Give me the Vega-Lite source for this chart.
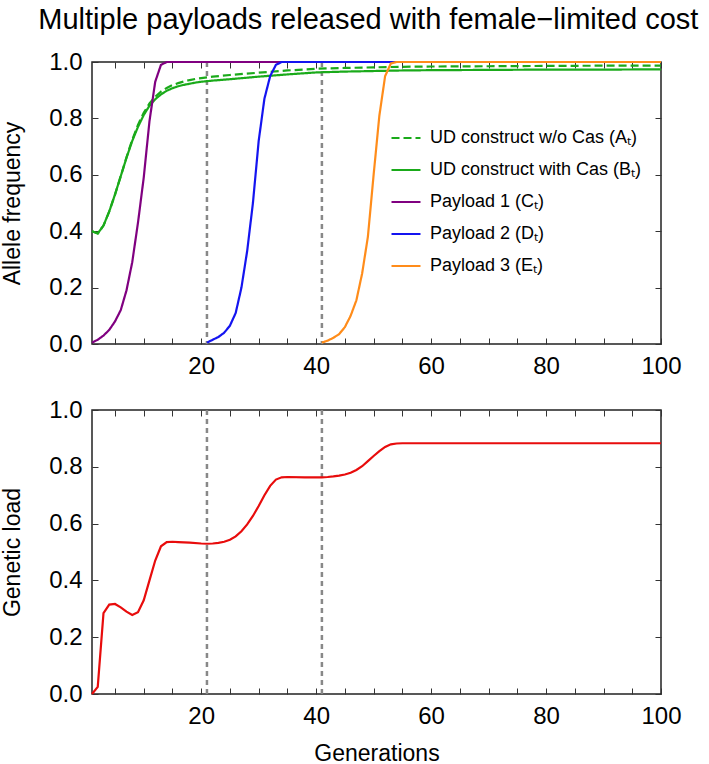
{
  "$schema": "https://vega.github.io/schema/vega-lite/v6.json",
  "padding": {"left": 0, "top": 6, "right": 5, "bottom": 5},
  "title": {"text": "Multiple payloads released with female−limited cost", "fontSize": 29, "font": "Liberation Sans", "fontWeight": "normal", "color": "#000", "anchor": "middle", "offset": 14, "dx": 27},
  "config": {
    "font": "Liberation Sans",
    "view": {"stroke": "#222", "strokeWidth": 1.5},
    "axis": {"grid": false, "domain": false, "tickColor": "#333", "tickWidth": 1, "labelColor": "#000", "titleColor": "#000", "labelFont": "Liberation Sans", "titleFont": "Liberation Sans", "titleFontWeight": "normal", "labelFontSize": 24, "titleFontSize": 23, "labelFlush": false}
  },
  "datasets": {
    "freq": [
      {"g": 1, "s": "A", "f": 0.400}, {"g": 2, "s": "A", "f": 0.392}, {"g": 3, "s": "A", "f": 0.420}, {"g": 4, "s": "A", "f": 0.470}, {"g": 5, "s": "A", "f": 0.530}, {"g": 6, "s": "A", "f": 0.595}, {"g": 7, "s": "A", "f": 0.662}, {"g": 8, "s": "A", "f": 0.724}, {"g": 9, "s": "A", "f": 0.777}, {"g": 10, "s": "A", "f": 0.820}, {"g": 11, "s": "A", "f": 0.853}, {"g": 12, "s": "A", "f": 0.877}, {"g": 13, "s": "A", "f": 0.895}, {"g": 14, "s": "A", "f": 0.908}, {"g": 15, "s": "A", "f": 0.918}, {"g": 16, "s": "A", "f": 0.925}, {"g": 17, "s": "A", "f": 0.931}, {"g": 18, "s": "A", "f": 0.936}, {"g": 19, "s": "A", "f": 0.940}, {"g": 20, "s": "A", "f": 0.943}, {"g": 22, "s": "A", "f": 0.948}, {"g": 25, "s": "A", "f": 0.954}, {"g": 30, "s": "A", "f": 0.962}, {"g": 35, "s": "A", "f": 0.970}, {"g": 40, "s": "A", "f": 0.976}, {"g": 45, "s": "A", "f": 0.979}, {"g": 50, "s": "A", "f": 0.981}, {"g": 55, "s": "A", "f": 0.983}, {"g": 60, "s": "A", "f": 0.984}, {"g": 70, "s": "A", "f": 0.985}, {"g": 80, "s": "A", "f": 0.986}, {"g": 90, "s": "A", "f": 0.987}, {"g": 100, "s": "A", "f": 0.987},
      {"g": 1, "s": "B", "f": 0.400}, {"g": 2, "s": "B", "f": 0.392}, {"g": 3, "s": "B", "f": 0.420}, {"g": 4, "s": "B", "f": 0.470}, {"g": 5, "s": "B", "f": 0.530}, {"g": 6, "s": "B", "f": 0.595}, {"g": 7, "s": "B", "f": 0.660}, {"g": 8, "s": "B", "f": 0.720}, {"g": 9, "s": "B", "f": 0.770}, {"g": 10, "s": "B", "f": 0.812}, {"g": 11, "s": "B", "f": 0.845}, {"g": 12, "s": "B", "f": 0.868}, {"g": 13, "s": "B", "f": 0.885}, {"g": 14, "s": "B", "f": 0.898}, {"g": 15, "s": "B", "f": 0.907}, {"g": 16, "s": "B", "f": 0.914}, {"g": 17, "s": "B", "f": 0.919}, {"g": 18, "s": "B", "f": 0.923}, {"g": 19, "s": "B", "f": 0.927}, {"g": 20, "s": "B", "f": 0.930}, {"g": 22, "s": "B", "f": 0.934}, {"g": 25, "s": "B", "f": 0.939}, {"g": 30, "s": "B", "f": 0.948}, {"g": 35, "s": "B", "f": 0.956}, {"g": 40, "s": "B", "f": 0.963}, {"g": 45, "s": "B", "f": 0.966}, {"g": 50, "s": "B", "f": 0.968}, {"g": 55, "s": "B", "f": 0.970}, {"g": 60, "s": "B", "f": 0.971}, {"g": 70, "s": "B", "f": 0.972}, {"g": 80, "s": "B", "f": 0.973}, {"g": 90, "s": "B", "f": 0.973}, {"g": 100, "s": "B", "f": 0.974},
      {"g": 1, "s": "C", "f": 0.005}, {"g": 2, "s": "C", "f": 0.015}, {"g": 3, "s": "C", "f": 0.030}, {"g": 4, "s": "C", "f": 0.050}, {"g": 5, "s": "C", "f": 0.080}, {"g": 6, "s": "C", "f": 0.120}, {"g": 7, "s": "C", "f": 0.190}, {"g": 8, "s": "C", "f": 0.290}, {"g": 9, "s": "C", "f": 0.430}, {"g": 10, "s": "C", "f": 0.590}, {"g": 11, "s": "C", "f": 0.790}, {"g": 12, "s": "C", "f": 0.930}, {"g": 13, "s": "C", "f": 0.990}, {"g": 14, "s": "C", "f": 1.0}, {"g": 100, "s": "C", "f": 1.0},
      {"g": 21, "s": "D", "f": 0.005}, {"g": 22, "s": "D", "f": 0.015}, {"g": 23, "s": "D", "f": 0.025}, {"g": 24, "s": "D", "f": 0.040}, {"g": 25, "s": "D", "f": 0.065}, {"g": 26, "s": "D", "f": 0.110}, {"g": 27, "s": "D", "f": 0.200}, {"g": 28, "s": "D", "f": 0.330}, {"g": 29, "s": "D", "f": 0.500}, {"g": 30, "s": "D", "f": 0.720}, {"g": 31, "s": "D", "f": 0.870}, {"g": 32, "s": "D", "f": 0.950}, {"g": 33, "s": "D", "f": 0.990}, {"g": 34, "s": "D", "f": 1.0}, {"g": 100, "s": "D", "f": 1.0},
      {"g": 41, "s": "E", "f": 0.005}, {"g": 42, "s": "E", "f": 0.012}, {"g": 43, "s": "E", "f": 0.022}, {"g": 44, "s": "E", "f": 0.035}, {"g": 45, "s": "E", "f": 0.060}, {"g": 46, "s": "E", "f": 0.100}, {"g": 47, "s": "E", "f": 0.155}, {"g": 48, "s": "E", "f": 0.250}, {"g": 49, "s": "E", "f": 0.380}, {"g": 50, "s": "E", "f": 0.600}, {"g": 51, "s": "E", "f": 0.810}, {"g": 52, "s": "E", "f": 0.950}, {"g": 53, "s": "E", "f": 0.995}, {"g": 54, "s": "E", "f": 1.0}, {"g": 100, "s": "E", "f": 1.0}
    ],
    "load": [
      {"g": 1, "L": 0.0}, {"g": 2, "L": 0.025}, {"g": 3, "L": 0.285}, {"g": 4, "L": 0.315}, {"g": 5, "L": 0.317}, {"g": 6, "L": 0.305}, {"g": 7, "L": 0.290}, {"g": 8, "L": 0.278}, {"g": 9, "L": 0.288}, {"g": 10, "L": 0.330}, {"g": 11, "L": 0.400}, {"g": 12, "L": 0.470}, {"g": 13, "L": 0.520}, {"g": 14, "L": 0.535}, {"g": 15, "L": 0.536}, {"g": 16, "L": 0.535}, {"g": 18, "L": 0.533}, {"g": 20, "L": 0.530}, {"g": 21, "L": 0.529}, {"g": 22, "L": 0.530}, {"g": 23, "L": 0.532}, {"g": 24, "L": 0.536}, {"g": 25, "L": 0.543}, {"g": 26, "L": 0.555}, {"g": 27, "L": 0.573}, {"g": 28, "L": 0.597}, {"g": 29, "L": 0.627}, {"g": 30, "L": 0.662}, {"g": 31, "L": 0.700}, {"g": 32, "L": 0.733}, {"g": 33, "L": 0.755}, {"g": 34, "L": 0.763}, {"g": 35, "L": 0.764}, {"g": 38, "L": 0.763}, {"g": 41, "L": 0.763}, {"g": 42, "L": 0.764}, {"g": 43, "L": 0.766}, {"g": 44, "L": 0.769}, {"g": 45, "L": 0.773}, {"g": 46, "L": 0.779}, {"g": 47, "L": 0.789}, {"g": 48, "L": 0.802}, {"g": 49, "L": 0.820}, {"g": 50, "L": 0.838}, {"g": 51, "L": 0.855}, {"g": 52, "L": 0.870}, {"g": 53, "L": 0.879}, {"g": 54, "L": 0.882}, {"g": 55, "L": 0.883}, {"g": 70, "L": 0.883}, {"g": 100, "L": 0.883}
    ],
    "release": [{"g": 21}, {"g": 41}]
  },
  "spacing": 66,
  "bounds": "flush",
  "vconcat": [
    {
      "width": 569,
      "height": 282,
      "resolve": {"axis": {"x": "independent", "y": "independent"}},
      "layer": [
        {
          "data": {"name": "release"},
          "mark": {"type": "rule", "color": "#888888", "strokeWidth": 2.5, "strokeDash": [5, 4]},
          "encoding": {"x": {"field": "g", "type": "quantitative", "scale": {"domain": [1, 100]}, "axis": null}}
        },
        {
          "data": {"name": "freq"},
          "transform": [{"filter": "datum.s === 'A' || datum.s === 'B'"}],
          "mark": {"type": "line", "strokeWidth": 2.2},
          "encoding": {
            "x": {"field": "g", "type": "quantitative", "scale": {"domain": [1, 100]}, "axis": {"orient": "bottom", "values": [5,10,15,20,25,30,35,40,45,50,55,60,65,70,75,80,85,90,95,100], "labelExpr": "datum.value % 20 === 0 ? datum.label : ''", "tickSize": -6, "labelPadding": 16, "title": null}},
            "y": {"field": "f", "type": "quantitative", "scale": {"domain": [0, 1]}, "axis": {"orient": "left", "values": [0, 0.2, 0.4, 0.6, 0.8, 1.0], "format": ".1f", "tickSize": -6, "labelPadding": 16, "title": "Allele frequency", "titlePadding": 24}},
            "color": {"field": "s", "type": "nominal", "scale": {"domain": ["A", "B", "C", "D", "E"], "range": ["#1aaa1a", "#1aaa1a", "#800080", "#1414f0", "#ff8c1a"]}, "legend": {"orient": "none", "legendX": 298, "legendY": 60, "title": null, "symbolType": "stroke", "symbolSize": 841, "symbolStrokeWidth": 2.2, "labelFontSize": 18, "labelColor": "#000", "labelLimit": 0, "labelOffset": 8, "rowPadding": 7, "labelExpr": "({'A': 'UD construct w/o Cas (Aₜ)', 'B': 'UD construct with Cas (Bₜ)', 'C': 'Payload 1 (Cₜ)', 'D': 'Payload 2 (Dₜ)', 'E': 'Payload 3 (Eₜ)'})[datum.label]"}},
            "strokeDash": {"field": "s", "type": "nominal", "scale": {"domain": ["A", "B", "C", "D", "E"], "range": [[8, 4], [1, 0], [1, 0], [1, 0], [1, 0]]}, "legend": {"orient": "none", "legendX": 298, "legendY": 60, "title": null, "symbolType": "stroke", "symbolSize": 841, "symbolStrokeWidth": 2.2, "labelFontSize": 18, "labelColor": "#000", "labelLimit": 0, "labelOffset": 8, "rowPadding": 7, "labelExpr": "({'A': 'UD construct w/o Cas (Aₜ)', 'B': 'UD construct with Cas (Bₜ)', 'C': 'Payload 1 (Cₜ)', 'D': 'Payload 2 (Dₜ)', 'E': 'Payload 3 (Eₜ)'})[datum.label]"}}
          }
        },
        {
          "data": {"name": "freq"},
          "transform": [{"filter": "datum.s !== 'A' && datum.s !== 'B'"}],
          "mark": {"type": "line", "strokeWidth": 2.2},
          "encoding": {
            "x": {"field": "g", "type": "quantitative", "scale": {"domain": [1, 100]}, "axis": {"orient": "top", "values": [5,10,15,20,25,30,35,40,45,50,55,60,65,70,75,80,85,90,95,100], "labels": false, "tickSize": -6, "title": null}},
            "y": {"field": "f", "type": "quantitative", "scale": {"domain": [0, 1]}, "axis": {"orient": "right", "values": [0, 0.2, 0.4, 0.6, 0.8, 1.0], "labels": false, "tickSize": -6, "title": null}},
            "color": {"field": "s", "type": "nominal"},
            "strokeDash": {"field": "s", "type": "nominal"}
          }
        }
      ]
    },
    {
      "width": 569,
      "height": 284,
      "resolve": {"axis": {"x": "independent", "y": "independent"}},
      "layer": [
        {
          "data": {"name": "release"},
          "mark": {"type": "rule", "color": "#888888", "strokeWidth": 2.5, "strokeDash": [5, 4]},
          "encoding": {"x": {"field": "g", "type": "quantitative", "scale": {"domain": [1, 100]}, "axis": null}}
        },
        {
          "data": {"name": "load"},
          "mark": {"type": "line", "strokeWidth": 2.2, "color": "#e80c0c"},
          "encoding": {
            "x": {"field": "g", "type": "quantitative", "scale": {"domain": [1, 100]}, "axis": {"orient": "bottom", "values": [5,10,15,20,25,30,35,40,45,50,55,60,65,70,75,80,85,90,95,100], "labelExpr": "datum.value % 20 === 0 ? datum.label : ''", "tickSize": -6, "labelPadding": 16, "title": "Generations", "titlePadding": 14}},
            "y": {"field": "L", "type": "quantitative", "scale": {"domain": [0, 1]}, "axis": {"orient": "left", "values": [0, 0.2, 0.4, 0.6, 0.8, 1.0], "format": ".1f", "tickSize": -6, "labelPadding": 16, "title": "Genetic load", "titlePadding": 24}}
          }
        },
        {
          "data": {"name": "load"},
          "mark": {"type": "line", "strokeWidth": 2.2, "color": "#e80c0c", "strokeOpacity": 0},
          "encoding": {
            "x": {"field": "g", "type": "quantitative", "scale": {"domain": [1, 100]}, "axis": {"orient": "top", "values": [5,10,15,20,25,30,35,40,45,50,55,60,65,70,75,80,85,90,95,100], "labels": false, "tickSize": -6, "title": null}},
            "y": {"field": "L", "type": "quantitative", "scale": {"domain": [0, 1]}, "axis": {"orient": "right", "values": [0, 0.2, 0.4, 0.6, 0.8, 1.0], "labels": false, "tickSize": -6, "title": null}}
          }
        }
      ]
    }
  ]
}
